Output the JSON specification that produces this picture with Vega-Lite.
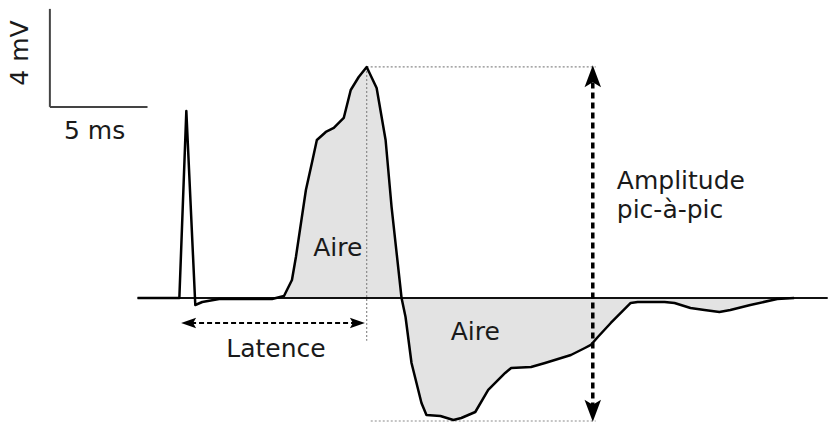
{
  "$schema": "https://vega.github.io/schema/vega-lite/v6.json",
  "autosize": {"type": "fit", "contains": "padding"},
  "width": 829,
  "height": 425,
  "padding": 0,
  "background": "white",
  "config": {"view": {"stroke": null}, "text": {"font": "DejaVu Sans"}},
  "datasets": {
    "trace": [
      {"t": -2.14, "v": 0}, {"t": 0, "v": 0}, {"t": 0.357, "v": 7.63}, {"t": 0.816, "v": -0.286},
      {"t": 1.173, "v": -0.163}, {"t": 2.04, "v": -0.04}, {"t": 4.745, "v": -0.04}, {"t": 5.357, "v": 0.082},
      {"t": 5.765, "v": 0.735}, {"t": 5.969, "v": 1.673}, {"t": 6.48, "v": 4.408}, {"t": 6.786, "v": 5.51},
      {"t": 7.041, "v": 6.449}, {"t": 7.5, "v": 6.776}, {"t": 7.908, "v": 6.939}, {"t": 8.418, "v": 7.347},
      {"t": 8.776, "v": 8.49}, {"t": 9.184, "v": 9.02}, {"t": 9.592, "v": 9.43}, {"t": 10.102, "v": 8.571},
      {"t": 10.561, "v": 6.449}, {"t": 10.867, "v": 3.714}, {"t": 11.378, "v": 0}, {"t": 11.582, "v": -0.776},
      {"t": 11.888, "v": -2.653}, {"t": 12.398, "v": -4.286}, {"t": 12.653, "v": -4.776}, {"t": 13.367, "v": -4.816},
      {"t": 14.031, "v": -4.98}, {"t": 14.439, "v": -4.898}, {"t": 15.153, "v": -4.653}, {"t": 15.816, "v": -3.755},
      {"t": 16.684, "v": -3.061}, {"t": 16.99, "v": -2.857}, {"t": 18.01, "v": -2.816}, {"t": 18.724, "v": -2.653},
      {"t": 19.388, "v": -2.49}, {"t": 20.051, "v": -2.327}, {"t": 20.765, "v": -2.041}, {"t": 21.071, "v": -1.918},
      {"t": 21.429, "v": -1.592}, {"t": 22.092, "v": -1.02}, {"t": 23.112, "v": -0.204}, {"t": 23.469, "v": -0.163},
      {"t": 24.847, "v": -0.163}, {"t": 25.357, "v": -0.204}, {"t": 26.173, "v": -0.408}, {"t": 26.888, "v": -0.49},
      {"t": 27.653, "v": -0.571}, {"t": 28.214, "v": -0.49}, {"t": 29.235, "v": -0.286}, {"t": 30.612, "v": -0.041},
      {"t": 31.48, "v": 0}
    ],
    "shade": [
      {"t": 5.357, "v": 0.082}, {"t": 5.765, "v": 0.735}, {"t": 5.969, "v": 1.673}, {"t": 6.48, "v": 4.408},
      {"t": 6.786, "v": 5.51}, {"t": 7.041, "v": 6.449}, {"t": 7.5, "v": 6.776}, {"t": 7.908, "v": 6.939},
      {"t": 8.418, "v": 7.347}, {"t": 8.776, "v": 8.49}, {"t": 9.184, "v": 9.02}, {"t": 9.592, "v": 9.43},
      {"t": 10.102, "v": 8.571}, {"t": 10.561, "v": 6.449}, {"t": 10.867, "v": 3.714}, {"t": 11.378, "v": 0},
      {"t": 11.582, "v": -0.776}, {"t": 11.888, "v": -2.653}, {"t": 12.398, "v": -4.286}, {"t": 12.653, "v": -4.776},
      {"t": 13.367, "v": -4.816}, {"t": 14.031, "v": -4.98}, {"t": 14.439, "v": -4.898}, {"t": 15.153, "v": -4.653},
      {"t": 15.816, "v": -3.755}, {"t": 16.684, "v": -3.061}, {"t": 16.99, "v": -2.857}, {"t": 18.01, "v": -2.816},
      {"t": 18.724, "v": -2.653}, {"t": 19.388, "v": -2.49}, {"t": 20.051, "v": -2.327}, {"t": 20.765, "v": -2.041},
      {"t": 21.071, "v": -1.918}, {"t": 21.429, "v": -1.592}, {"t": 22.092, "v": -1.02}, {"t": 23.112, "v": -0.204},
      {"t": 23.469, "v": -0.163}, {"t": 24.847, "v": -0.163}, {"t": 25.357, "v": -0.204}, {"t": 26.173, "v": -0.408},
      {"t": 26.888, "v": -0.49}, {"t": 27.653, "v": -0.571}, {"t": 28.214, "v": -0.49}, {"t": 29.235, "v": -0.286},
      {"t": 30.612, "v": -0.041}, {"t": 31.48, "v": 0}
    ],
    "dotted": [
      {"t": 9.592, "t2": 9.592, "v": 9.43, "v2": -1.75},
      {"t": 9.592, "t2": 21.32, "v": 9.43, "v2": 9.43},
      {"t": 9.8, "t2": 21.32, "v": -5.02, "v2": -5.02}
    ],
    "scalebar": [
      {"t": -6.63, "t2": -6.63, "v": 7.8, "v2": 11.8},
      {"t": -6.63, "t2": -1.63, "v": 7.8, "v2": 7.8}
    ],
    "arrowheads": [
      {"t": 21.17, "v": 9.5, "dir": "up", "kind": "big"},
      {"t": 21.17, "v": -5.05, "dir": "down", "kind": "big"},
      {"t": 0.09, "v": -1.02, "dir": "left", "kind": "small"},
      {"t": 9.5, "v": -1.02, "dir": "right", "kind": "small"}
    ],
    "labels": [
      {"t": 8.11, "v": 2.04, "label": "Aire"},
      {"t": 15.15, "v": -1.39, "label": "Aire"},
      {"t": 4.95, "v": -2.1, "label": "Latence"},
      {"t": -4.34, "v": 6.82, "label": "5 ms"}
    ]
  },
  "layer": [
    {
      "data": {"name": "shade"},
      "mark": {"type": "area", "color": "#e3e3e3", "opacity": 1},
      "encoding": {
        "x": {"field": "t", "type": "quantitative", "scale": {"domain": [-9.184, 33.112], "nice": false, "zero": false}, "axis": null},
        "y": {"field": "v", "type": "quantitative", "scale": {"domain": [-5.184, 12.163], "nice": false, "zero": false}, "axis": null},
        "y2": {"datum": 0}
      }
    },
    {
      "data": {"values": [{"t": -2.14, "t2": 33.2, "v": 0}]},
      "mark": {"type": "rule", "color": "#111", "strokeWidth": 2},
      "encoding": {
        "x": {"field": "t", "type": "quantitative"},
        "x2": {"field": "t2"},
        "y": {"field": "v", "type": "quantitative"}
      }
    },
    {
      "data": {"name": "dotted"},
      "mark": {"type": "rule", "color": "#8a8a8a", "strokeWidth": 1.2, "strokeDash": [2, 2]},
      "encoding": {
        "x": {"field": "t", "type": "quantitative"},
        "x2": {"field": "t2"},
        "y": {"field": "v", "type": "quantitative"},
        "y2": {"field": "v2"}
      }
    },
    {
      "data": {"name": "trace"},
      "mark": {"type": "line", "color": "#000", "strokeWidth": 2.5, "strokeJoin": "round"},
      "encoding": {
        "x": {"field": "t", "type": "quantitative"},
        "y": {"field": "v", "type": "quantitative"},
        "order": {"field": "t", "type": "quantitative"}
      }
    },
    {
      "data": {"name": "scalebar"},
      "mark": {"type": "rule", "color": "#444", "strokeWidth": 2},
      "encoding": {
        "x": {"field": "t", "type": "quantitative"},
        "x2": {"field": "t2"},
        "y": {"field": "v", "type": "quantitative"},
        "y2": {"field": "v2"}
      }
    },
    {
      "data": {"values": [{"t": 21.17, "v": 8.8, "v2": -4.4}]},
      "mark": {"type": "rule", "color": "#000", "strokeWidth": 3.5, "strokeDash": [6, 4]},
      "encoding": {
        "x": {"field": "t", "type": "quantitative"},
        "y": {"field": "v", "type": "quantitative"},
        "y2": {"field": "v2"}
      }
    },
    {
      "data": {"values": [{"t": 0.6, "t2": 9.0, "v": -1.02}]},
      "mark": {"type": "rule", "color": "#000", "strokeWidth": 2, "strokeDash": [5, 3]},
      "encoding": {
        "x": {"field": "t", "type": "quantitative"},
        "x2": {"field": "t2"},
        "y": {"field": "v", "type": "quantitative"}
      }
    },
    {
      "data": {"name": "arrowheads"},
      "mark": {"type": "point", "filled": true, "color": "#000", "opacity": 1, "strokeWidth": 0},
      "encoding": {
        "x": {"field": "t", "type": "quantitative"},
        "y": {"field": "v", "type": "quantitative"},
        "shape": {
          "field": "dir", "type": "nominal", "legend": null,
          "scale": {
            "domain": ["up", "down", "left", "right"],
            "range": [
              "M0,0L0.75,2L0,1.55L-0.75,2Z",
              "M0,0L0.75,-2L0,-1.55L-0.75,-2Z",
              "M0,0L2,-0.7L1.6,0L2,0.7Z",
              "M0,0L-2,-0.7L-1.6,0L-2,0.7Z"
            ]
          }
        },
        "size": {
          "field": "kind", "type": "nominal", "legend": null,
          "scale": {"type": "ordinal", "domain": ["big", "small"], "range": [484, 225]}
        }
      }
    },
    {
      "data": {"name": "labels"},
      "mark": {"type": "text", "fontSize": 25, "color": "#1a1a1a", "baseline": "middle", "align": "center"},
      "encoding": {
        "x": {"field": "t", "type": "quantitative"},
        "y": {"field": "v", "type": "quantitative"},
        "text": {"field": "label"}
      }
    },
    {
      "data": {"values": [{"t": 22.4, "v": 4.45, "label": "Amplitude\npic-à-pic"}]},
      "mark": {"type": "text", "fontSize": 25, "color": "#1a1a1a", "baseline": "alphabetic", "align": "left", "lineBreak": "\n", "lineHeight": 29},
      "encoding": {
        "x": {"field": "t", "type": "quantitative"},
        "y": {"field": "v", "type": "quantitative"},
        "text": {"field": "label"}
      }
    },
    {
      "data": {"values": [{"t": -8.16, "v": 10.0, "label": "4 mV"}]},
      "mark": {"type": "text", "fontSize": 25, "color": "#1a1a1a", "baseline": "middle", "align": "center", "angle": 270},
      "encoding": {
        "x": {"field": "t", "type": "quantitative"},
        "y": {"field": "v", "type": "quantitative"},
        "text": {"field": "label"}
      }
    }
  ]
}
